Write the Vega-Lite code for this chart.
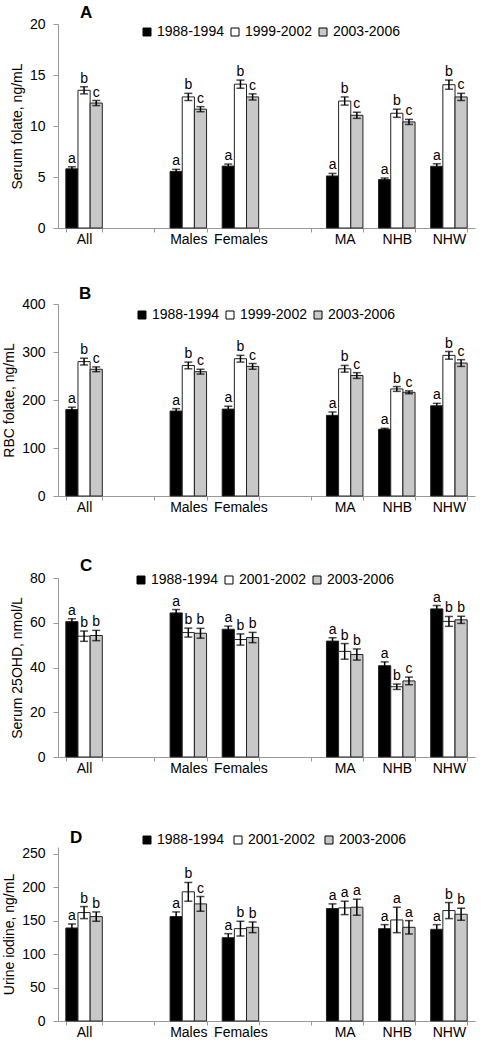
{
  "$schema": "https://vega.github.io/schema/vega-lite/v6.json",
  "padding": {"left": 2, "top": 4, "right": 5, "bottom": 0},
  "background": "white",
  "config": {
    "font": "Liberation Sans",
    "view": {"stroke": null},
    "axisY": {"domainColor": "#999999", "tickColor": "#999999", "tickSize": 5, "labelFontSize": 14, "labelColor": "black", "labelPadding": 8, "grid": false, "titleFontSize": 14, "titleFontWeight": "normal", "titleColor": "black", "titlePadding": 5},
    "axisX": {"domainColor": "#999999", "tickColor": "#999999", "tickSize": 4, "tickBand": "extent", "labelFontSize": 14, "labelColor": "black", "labelPadding": 0, "labelAngle": 0, "grid": false},
    "title": {"anchor": "start", "frame": "group", "fontSize": 17, "fontWeight": "bold", "color": "black"},
    "legend": {"orient": "none", "direction": "horizontal", "title": null, "symbolType": "square", "symbolSize": 64, "symbolStrokeColor": "black", "symbolStrokeWidth": 1, "labelFontSize": 14, "labelColor": "black", "labelOffset": 3, "columnPadding": 4, "padding": 0}
  },
  "datasets": {
    "A": [
      {"g": "All", "k": "1", "p": "1988-1994", "v": 5.8, "lo": 5.6, "hi": 6.0, "l": "a"},
      {"g": "All", "k": "2", "p": "1999-2002", "v": 13.5, "lo": 13.15, "hi": 13.85, "l": "b"},
      {"g": "All", "k": "3", "p": "2003-2006", "v": 12.25, "lo": 12.0, "hi": 12.5, "l": "c"},
      {"g": "Males", "k": "1", "p": "1988-1994", "v": 5.55, "lo": 5.35, "hi": 5.75, "l": "a"},
      {"g": "Males", "k": "2", "p": "1999-2002", "v": 12.85, "lo": 12.5, "hi": 13.2, "l": "b"},
      {"g": "Males", "k": "3", "p": "2003-2006", "v": 11.65, "lo": 11.4, "hi": 11.9, "l": "c"},
      {"g": "Females", "k": "1", "p": "1988-1994", "v": 6.07, "lo": 5.87, "hi": 6.27, "l": "a"},
      {"g": "Females", "k": "2", "p": "1999-2002", "v": 14.1, "lo": 13.7, "hi": 14.5, "l": "b"},
      {"g": "Females", "k": "3", "p": "2003-2006", "v": 12.85, "lo": 12.55, "hi": 13.15, "l": "c"},
      {"g": "MA", "k": "1", "p": "1988-1994", "v": 5.1, "lo": 4.85, "hi": 5.35, "l": "a"},
      {"g": "MA", "k": "2", "p": "1999-2002", "v": 12.45, "lo": 12.05, "hi": 12.85, "l": "b"},
      {"g": "MA", "k": "3", "p": "2003-2006", "v": 11.05, "lo": 10.75, "hi": 11.35, "l": "c"},
      {"g": "NHB", "k": "1", "p": "1988-1994", "v": 4.75, "lo": 4.6, "hi": 4.9, "l": "a"},
      {"g": "NHB", "k": "2", "p": "1999-2002", "v": 11.25, "lo": 10.85, "hi": 11.65, "l": "b"},
      {"g": "NHB", "k": "3", "p": "2003-2006", "v": 10.4, "lo": 10.15, "hi": 10.65, "l": "c"},
      {"g": "NHW", "k": "1", "p": "1988-1994", "v": 6.05, "lo": 5.8, "hi": 6.3, "l": "a"},
      {"g": "NHW", "k": "2", "p": "1999-2002", "v": 14.05, "lo": 13.6, "hi": 14.5, "l": "b"},
      {"g": "NHW", "k": "3", "p": "2003-2006", "v": 12.85, "lo": 12.5, "hi": 13.2, "l": "c"}
    ],
    "B": [
      {"g": "All", "k": "1", "p": "1988-1994", "v": 180, "lo": 175, "hi": 185, "l": "a"},
      {"g": "All", "k": "2", "p": "1999-2002", "v": 280, "lo": 273, "hi": 287, "l": "b"},
      {"g": "All", "k": "3", "p": "2003-2006", "v": 264, "lo": 259, "hi": 269, "l": "c"},
      {"g": "Males", "k": "1", "p": "1988-1994", "v": 177, "lo": 172, "hi": 182, "l": "a"},
      {"g": "Males", "k": "2", "p": "1999-2002", "v": 272, "lo": 265, "hi": 279, "l": "b"},
      {"g": "Males", "k": "3", "p": "2003-2006", "v": 259, "lo": 254, "hi": 264, "l": "c"},
      {"g": "Females", "k": "1", "p": "1988-1994", "v": 181, "lo": 175, "hi": 187, "l": "a"},
      {"g": "Females", "k": "2", "p": "1999-2002", "v": 286, "lo": 279, "hi": 293, "l": "b"},
      {"g": "Females", "k": "3", "p": "2003-2006", "v": 270, "lo": 264, "hi": 276, "l": "c"},
      {"g": "MA", "k": "1", "p": "1988-1994", "v": 168, "lo": 161, "hi": 175, "l": "a"},
      {"g": "MA", "k": "2", "p": "1999-2002", "v": 265, "lo": 258, "hi": 272, "l": "b"},
      {"g": "MA", "k": "3", "p": "2003-2006", "v": 251, "lo": 245, "hi": 257, "l": "c"},
      {"g": "NHB", "k": "1", "p": "1988-1994", "v": 139, "lo": 137, "hi": 141, "l": "a"},
      {"g": "NHB", "k": "2", "p": "1999-2002", "v": 223, "lo": 218, "hi": 228, "l": "b"},
      {"g": "NHB", "k": "3", "p": "2003-2006", "v": 216, "lo": 213, "hi": 219, "l": "c"},
      {"g": "NHW", "k": "1", "p": "1988-1994", "v": 188, "lo": 183, "hi": 193, "l": "a"},
      {"g": "NHW", "k": "2", "p": "1999-2002", "v": 293, "lo": 285, "hi": 301, "l": "b"},
      {"g": "NHW", "k": "3", "p": "2003-2006", "v": 277, "lo": 270, "hi": 284, "l": "c"}
    ],
    "C": [
      {"g": "All", "k": "1", "p": "1988-1994", "v": 60.5, "lo": 59.2, "hi": 61.8, "l": "a"},
      {"g": "All", "k": "2", "p": "2001-2002", "v": 54.0, "lo": 51.7, "hi": 56.3, "l": "b"},
      {"g": "All", "k": "3", "p": "2003-2006", "v": 54.3, "lo": 52.0, "hi": 56.6, "l": "b"},
      {"g": "Males", "k": "1", "p": "1988-1994", "v": 64.4, "lo": 62.9, "hi": 65.9, "l": "a"},
      {"g": "Males", "k": "2", "p": "2001-2002", "v": 55.6, "lo": 53.6, "hi": 57.6, "l": "b"},
      {"g": "Males", "k": "3", "p": "2003-2006", "v": 55.3, "lo": 53.1, "hi": 57.5, "l": "b"},
      {"g": "Females", "k": "1", "p": "1988-1994", "v": 57.1, "lo": 55.7, "hi": 58.5, "l": "a"},
      {"g": "Females", "k": "2", "p": "2001-2002", "v": 52.5, "lo": 50.0, "hi": 55.0, "l": "b"},
      {"g": "Females", "k": "3", "p": "2003-2006", "v": 53.4, "lo": 51.1, "hi": 55.7, "l": "b"},
      {"g": "MA", "k": "1", "p": "1988-1994", "v": 51.8, "lo": 50.3, "hi": 53.3, "l": "a"},
      {"g": "MA", "k": "2", "p": "2001-2002", "v": 47.2, "lo": 43.7, "hi": 50.7, "l": "b"},
      {"g": "MA", "k": "3", "p": "2003-2006", "v": 45.8, "lo": 43.3, "hi": 48.3, "l": "b"},
      {"g": "NHB", "k": "1", "p": "1988-1994", "v": 40.8, "lo": 39.1, "hi": 42.5, "l": "a"},
      {"g": "NHB", "k": "2", "p": "2001-2002", "v": 31.4, "lo": 30.2, "hi": 32.6, "l": "b"},
      {"g": "NHB", "k": "3", "p": "2003-2006", "v": 34.0, "lo": 32.3, "hi": 35.7, "l": "c"},
      {"g": "NHW", "k": "1", "p": "1988-1994", "v": 66.2, "lo": 64.7, "hi": 67.7, "l": "a"},
      {"g": "NHW", "k": "2", "p": "2001-2002", "v": 60.6, "lo": 58.4, "hi": 62.8, "l": "b"},
      {"g": "NHW", "k": "3", "p": "2003-2006", "v": 61.3, "lo": 59.7, "hi": 62.9, "l": "b"}
    ],
    "D": [
      {"g": "All", "k": "1", "p": "1988-1994", "v": 139, "lo": 133, "hi": 145, "l": "a"},
      {"g": "All", "k": "2", "p": "2001-2002", "v": 162, "lo": 153, "hi": 171, "l": "b"},
      {"g": "All", "k": "3", "p": "2003-2006", "v": 156, "lo": 149, "hi": 163, "l": "b"},
      {"g": "Males", "k": "1", "p": "1988-1994", "v": 156, "lo": 149, "hi": 163, "l": "a"},
      {"g": "Males", "k": "2", "p": "2001-2002", "v": 193, "lo": 179, "hi": 207, "l": "b"},
      {"g": "Males", "k": "3", "p": "2003-2006", "v": 175, "lo": 164, "hi": 186, "l": "c"},
      {"g": "Females", "k": "1", "p": "1988-1994", "v": 124.5, "lo": 118.5, "hi": 130.5, "l": "a"},
      {"g": "Females", "k": "2", "p": "2001-2002", "v": 138, "lo": 127, "hi": 149, "l": "b"},
      {"g": "Females", "k": "3", "p": "2003-2006", "v": 140, "lo": 132, "hi": 148, "l": "b"},
      {"g": "MA", "k": "1", "p": "1988-1994", "v": 168, "lo": 161, "hi": 175, "l": "a"},
      {"g": "MA", "k": "2", "p": "2001-2002", "v": 169, "lo": 159, "hi": 179, "l": "a"},
      {"g": "MA", "k": "3", "p": "2003-2006", "v": 170, "lo": 158, "hi": 182, "l": "a"},
      {"g": "NHB", "k": "1", "p": "1988-1994", "v": 138, "lo": 132, "hi": 144, "l": "a"},
      {"g": "NHB", "k": "2", "p": "2001-2002", "v": 151, "lo": 132, "hi": 170, "l": "a"},
      {"g": "NHB", "k": "3", "p": "2003-2006", "v": 140, "lo": 130, "hi": 150, "l": "a"},
      {"g": "NHW", "k": "1", "p": "1988-1994", "v": 137, "lo": 130, "hi": 144, "l": "a"},
      {"g": "NHW", "k": "2", "p": "2001-2002", "v": 165, "lo": 153, "hi": 177, "l": "b"},
      {"g": "NHW", "k": "3", "p": "2003-2006", "v": 159.5, "lo": 150.5, "hi": 168.5, "l": "b"}
    ]
  },
  "spacing": 39,
  "resolve": {"scale": {"color": "independent", "y": "independent", "x": "independent", "xOffset": "independent"}},
  "vconcat": [
    {
      "data": {"name": "A"},
      "width": 417, "height": 204,
      "title": {"text": "A", "dx": 22, "offset": -5},
      "encoding": {
        "x": {"field": "g", "type": "nominal", "title": null, "scale": {"domain": ["All", " ", "Males", "Females", "  ", "MA", "NHB", "NHW"], "paddingInner": 0.3, "paddingOuter": 0.15}},
        "xOffset": {"field": "k", "type": "nominal", "scale": {"paddingInner": 0, "paddingOuter": 0}}
      },
      "layer": [
        {"mark": {"type": "bar", "stroke": "#222222", "strokeWidth": 1},
         "encoding": {
           "y": {"field": "v", "type": "quantitative", "title": "Serum folate, ng/mL", "scale": {"domain": [0, 20]}, "axis": {"values": [0, 5, 10, 15, 20]}},
           "color": {"field": "p", "type": "nominal", "scale": {"domain": ["1988-1994", "1999-2002", "2003-2006"], "range": ["#000000", "#ffffff", "#c8c8c8"]}, "legend": {"legendX": 82, "legendY": 1}}
         }},
        {"mark": {"type": "rule", "color": "black", "strokeWidth": 1.5}, "encoding": {"y": {"field": "lo", "type": "quantitative", "axis": {"values": [0, 5, 10, 15, 20]}}, "y2": {"field": "hi"}}},
        {"mark": {"type": "tick", "orient": "horizontal", "size": 8, "thickness": 1.5, "color": "black"}, "encoding": {"y": {"field": "lo", "type": "quantitative", "axis": {"values": [0, 5, 10, 15, 20]}}}},
        {"mark": {"type": "tick", "orient": "horizontal", "size": 8, "thickness": 1.5, "color": "black"}, "encoding": {"y": {"field": "hi", "type": "quantitative", "axis": {"values": [0, 5, 10, 15, 20]}}}},
        {"mark": {"type": "text", "baseline": "alphabetic", "dy": -4, "fontSize": 14, "color": "black"}, "encoding": {"y": {"field": "hi", "type": "quantitative", "axis": {"values": [0, 5, 10, 15, 20]}}, "text": {"field": "l"}}}
      ]
    },
    {
      "data": {"name": "B"},
      "width": 417, "height": 192,
      "title": {"text": "B", "dx": 21, "offset": -6},
      "encoding": {
        "x": {"field": "g", "type": "nominal", "title": null, "scale": {"domain": ["All", " ", "Males", "Females", "  ", "MA", "NHB", "NHW"], "paddingInner": 0.3, "paddingOuter": 0.15}},
        "xOffset": {"field": "k", "type": "nominal", "scale": {"paddingInner": 0, "paddingOuter": 0}}
      },
      "layer": [
        {"mark": {"type": "bar", "stroke": "#222222", "strokeWidth": 1},
         "encoding": {
           "y": {"field": "v", "type": "quantitative", "title": "RBC folate, ng/mL", "scale": {"domain": [0, 400]}, "axis": {"values": [0, 100, 200, 300, 400]}},
           "color": {"field": "p", "type": "nominal", "scale": {"domain": ["1988-1994", "1999-2002", "2003-2006"], "range": ["#000000", "#ffffff", "#c8c8c8"]}, "legend": {"legendX": 77, "legendY": 4}}
         }},
        {"mark": {"type": "rule", "color": "black", "strokeWidth": 1.5}, "encoding": {"y": {"field": "lo", "type": "quantitative", "axis": {"values": [0, 100, 200, 300, 400]}}, "y2": {"field": "hi"}}},
        {"mark": {"type": "tick", "orient": "horizontal", "size": 8, "thickness": 1.5, "color": "black"}, "encoding": {"y": {"field": "lo", "type": "quantitative", "axis": {"values": [0, 100, 200, 300, 400]}}}},
        {"mark": {"type": "tick", "orient": "horizontal", "size": 8, "thickness": 1.5, "color": "black"}, "encoding": {"y": {"field": "hi", "type": "quantitative", "axis": {"values": [0, 100, 200, 300, 400]}}}},
        {"mark": {"type": "text", "baseline": "alphabetic", "dy": -4, "fontSize": 14, "color": "black"}, "encoding": {"y": {"field": "hi", "type": "quantitative", "axis": {"values": [0, 100, 200, 300, 400]}}, "text": {"field": "l"}}}
      ]
    },
    {
      "data": {"name": "C"},
      "width": 417, "height": 179,
      "title": {"text": ["", "C"], "dx": 22, "offset": -4, "lineHeight": 4},
      "encoding": {
        "x": {"field": "g", "type": "nominal", "title": null, "scale": {"domain": ["All", " ", "Males", "Females", "  ", "MA", "NHB", "NHW"], "paddingInner": 0.3, "paddingOuter": 0.15}},
        "xOffset": {"field": "k", "type": "nominal", "scale": {"paddingInner": 0, "paddingOuter": 0}}
      },
      "layer": [
        {"mark": {"type": "bar", "stroke": "#222222", "strokeWidth": 1},
         "encoding": {
           "y": {"field": "v", "type": "quantitative", "title": "Serum 25OHD, nmol/L", "scale": {"domain": [0, 80]}, "axis": {"values": [0, 20, 40, 60, 80]}},
           "color": {"field": "p", "type": "nominal", "scale": {"domain": ["1988-1994", "2001-2002", "2003-2006"], "range": ["#000000", "#ffffff", "#c8c8c8"]}, "legend": {"legendX": 76, "legendY": -5}}
         }},
        {"mark": {"type": "rule", "color": "black", "strokeWidth": 1.5}, "encoding": {"y": {"field": "lo", "type": "quantitative", "axis": {"values": [0, 20, 40, 60, 80]}}, "y2": {"field": "hi"}}},
        {"mark": {"type": "tick", "orient": "horizontal", "size": 8, "thickness": 1.5, "color": "black"}, "encoding": {"y": {"field": "lo", "type": "quantitative", "axis": {"values": [0, 20, 40, 60, 80]}}}},
        {"mark": {"type": "tick", "orient": "horizontal", "size": 8, "thickness": 1.5, "color": "black"}, "encoding": {"y": {"field": "hi", "type": "quantitative", "axis": {"values": [0, 20, 40, 60, 80]}}}},
        {"mark": {"type": "text", "baseline": "alphabetic", "dy": -4, "fontSize": 14, "color": "black"}, "encoding": {"y": {"field": "hi", "type": "quantitative", "axis": {"values": [0, 20, 40, 60, 80]}}, "text": {"field": "l"}}}
      ]
    },
    {
      "data": {"name": "D"},
      "width": 417, "height": 174,
      "title": {"text": ["", "D"], "dx": 12, "offset": -14, "lineHeight": 15},
      "encoding": {
        "x": {"field": "g", "type": "nominal", "title": null, "scale": {"domain": ["All", " ", "Males", "Females", "  ", "MA", "NHB", "NHW"], "paddingInner": 0.3, "paddingOuter": 0.15}},
        "xOffset": {"field": "k", "type": "nominal", "scale": {"paddingInner": 0, "paddingOuter": 0}}
      },
      "layer": [
        {"mark": {"type": "bar", "stroke": "#222222", "strokeWidth": 1},
         "encoding": {
           "y": {"field": "v", "type": "quantitative", "title": "Urine iodine, ng/mL", "scale": {"domain": [0, 250]}, "axis": {"values": [0, 50, 100, 150, 200, 250]}},
           "color": {"field": "p", "type": "nominal", "scale": {"domain": ["1988-1994", "2001-2002", "2003-2006"], "range": ["#000000", "#ffffff", "#c8c8c8"]}, "legend": {"legendX": 82, "legendY": -14, "columnPadding": 7}}
         }},
        {"mark": {"type": "rule", "color": "black", "strokeWidth": 1.5}, "encoding": {"y": {"field": "lo", "type": "quantitative", "axis": {"values": [0, 50, 100, 150, 200, 250]}}, "y2": {"field": "hi"}}},
        {"mark": {"type": "tick", "orient": "horizontal", "size": 8, "thickness": 1.5, "color": "black"}, "encoding": {"y": {"field": "lo", "type": "quantitative", "axis": {"values": [0, 50, 100, 150, 200, 250]}}}},
        {"mark": {"type": "tick", "orient": "horizontal", "size": 8, "thickness": 1.5, "color": "black"}, "encoding": {"y": {"field": "hi", "type": "quantitative", "axis": {"values": [0, 50, 100, 150, 200, 250]}}}},
        {"mark": {"type": "text", "baseline": "alphabetic", "dy": -4, "fontSize": 14, "color": "black"}, "encoding": {"y": {"field": "hi", "type": "quantitative", "axis": {"values": [0, 50, 100, 150, 200, 250]}}, "text": {"field": "l"}}}
      ]
    }
  ]
}
